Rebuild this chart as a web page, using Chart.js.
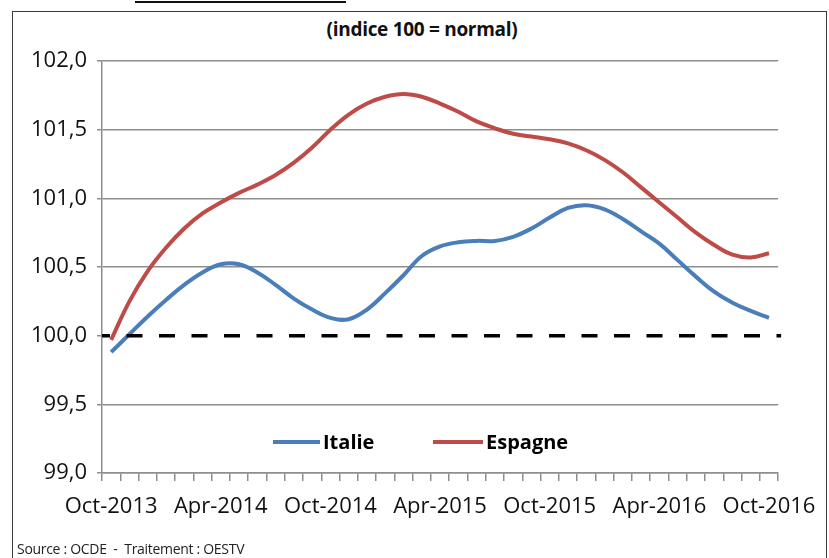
<!DOCTYPE html>
<html lang="fr">
<head>
<meta charset="utf-8">
<title>Indice 100 = normal</title>
<script src="https://cdn.jsdelivr.net/npm/chart.js@4.4.1/dist/chart.umd.min.js"></script>
<style>
    html, body { margin: 0; padding: 0; background: #fff; }
    body { width: 829px; height: 558px; position: relative; overflow: hidden; font-family: "Open Sans", sans-serif; }
    .frame { position: absolute; left: 12px; top: 11px; width: 815px; height: 570px; border: 1.5px solid #3a3a3a; box-sizing: border-box; }
    .topline { position: absolute; left: 135px; top: 1px; width: 211px; height: 2px; background: #111; }
    .subtitle { position: absolute; left: 0; width: 844px; top: 16px; text-align: center; font-weight: 700; font-size: 19px; letter-spacing: -0.3px; color: #111; }
    .source { position: absolute; left: 17px; top: 539px; font-size: 14px; letter-spacing: -0.3px; color: #222; white-space: nowrap; }
    canvas { position: absolute; left: 0; top: 0; }
</style>
</head>
<body>
<div class="frame"></div>
<div class="topline"></div>
<div class="subtitle">(indice 100 = normal)</div>
<canvas id="chart" width="829" height="558"></canvas>
<div class="source">Source : OCDE&nbsp; - &nbsp;Traitement : OESTV</div>

<script>
// Months, Oct-2013 .. Oct-2016
const months = [
    'Oct-2013', 'Nov-2013', 'Dec-2013', 'Jan-2014', 'Feb-2014', 'Mar-2014',
    'Apr-2014', 'May-2014', 'Jun-2014', 'Jul-2014', 'Aug-2014', 'Sep-2014',
    'Oct-2014', 'Nov-2014', 'Dec-2014', 'Jan-2015', 'Feb-2015', 'Mar-2015',
    'Apr-2015', 'May-2015', 'Jun-2015', 'Jul-2015', 'Aug-2015', 'Sep-2015',
    'Oct-2015', 'Nov-2015', 'Dec-2015', 'Jan-2016', 'Feb-2016', 'Mar-2016',
    'Apr-2016', 'May-2016', 'Jun-2016', 'Jul-2016', 'Aug-2016', 'Sep-2016',
    'Oct-2016'
];

// Series values
const italie = [
    99.88, 100.01, 100.14, 100.26, 100.37, 100.46, 100.52, 100.52, 100.46, 100.37,
    100.27, 100.19, 100.13, 100.12, 100.19, 100.31, 100.44, 100.58, 100.65, 100.68,
    100.69, 100.69, 100.72, 100.78, 100.86, 100.93, 100.95, 100.92, 100.85, 100.76,
    100.67, 100.55, 100.43, 100.32, 100.24, 100.18, 100.13
];
const espagne = [
    99.97, 100.25, 100.47, 100.64, 100.78, 100.89, 100.97, 101.04, 101.10, 101.17,
    101.26, 101.37, 101.50, 101.61, 101.69, 101.74, 101.76, 101.74, 101.69, 101.63,
    101.56, 101.51, 101.47, 101.45, 101.43, 101.40, 101.35, 101.28, 101.19, 101.08,
    100.97, 100.86, 100.75, 100.66, 100.59, 100.57, 100.60
];

const yMin = 99;
const yMax = 102;
const yStep = 0.5;
const normalLevel = 100;
const labelEvery = 6;

const gridGray = '#8e8e8e';
const fontFamily = '"Open Sans", sans-serif';

// dashed black line at index 100
const normalLine = {
    id: 'normalLine',
    afterDatasetsDraw(chart) {
        const { ctx, chartArea } = chart;
        const y = chart.scales.y.getPixelForValue(normalLevel);
        ctx.save();
        ctx.beginPath();
        ctx.setLineDash([16, 16.5]);
        ctx.lineDashOffset = 8;
        ctx.strokeStyle = '#000';
        ctx.lineWidth = 3.5;
        ctx.moveTo(chartArea.left, y);
        ctx.lineTo(chartArea.right + 3, y);
        ctx.stroke();
        ctx.restore();
    }
};

// legend drawn inside the plot, near the bottom
const innerLegend = {
    id: 'innerLegend',
    afterDraw(chart, args, opts) {
        const { ctx } = chart;
        ctx.save();
        ctx.font = 'bold 20px ' + fontFamily;
        ctx.textBaseline = 'middle';
        ctx.textAlign = 'left';
        opts.items.forEach((item, i) => {
            const ds = chart.data.datasets[i];
            ctx.beginPath();
            ctx.strokeStyle = ds.borderColor;
            ctx.lineWidth = 4;
            ctx.moveTo(item.x, opts.y);
            ctx.lineTo(item.x + item.w, opts.y);
            ctx.stroke();
            ctx.fillStyle = '#000';
            ctx.fillText(ds.label, item.x + item.w + 3, opts.y + 1);
        });
        ctx.restore();
    }
};

new Chart(document.getElementById('chart'), {
    type: 'line',
    data: {
        labels: months,
        datasets: [
            {
                label: 'Italie',
                data: italie,
                borderColor: '#4a7ebb',
                borderWidth: 4,
                pointRadius: 0,
                tension: 0.4,
                fill: false
            },
            {
                label: 'Espagne',
                data: espagne,
                borderColor: '#be4b48',
                borderWidth: 4,
                pointRadius: 0,
                tension: 0.4,
                fill: false
            }
        ]
    },
    options: {
        responsive: false,
        animation: false,
        layout: {
            padding: { left: 20, top: 61, right: 42, bottom: 40 }
        },
        plugins: {
            legend: { display: false },
            tooltip: { enabled: false },
            innerLegend: {
                y: 442,
                items: [
                    { x: 273, w: 47 },
                    { x: 433, w: 50 }
                ]
            }
        },
        scales: {
            x: {
                offset: true,
                grid: {
                    offset: true,
                    drawOnChartArea: false,
                    color: gridGray,
                    lineWidth: 1.5,
                    tickLength: 8
                },
                border: { color: gridGray, width: 1.5 },
                ticks: {
                    autoSkip: false,
                    maxRotation: 0,
                    padding: 13,
                    color: '#111',
                    font: { family: fontFamily, size: 22 },
                    callback: (value, index) => (index % labelEvery === 0 ? months[index] : '')
                },
                afterFit: (scale) => { scale.height = 45; }
            },
            y: {
                min: yMin,
                max: yMax,
                grid: {
                    color: (c) => (c.tick && c.tick.value === normalLevel ? 'rgba(0,0,0,0)' : gridGray),
                    tickColor: gridGray,
                    lineWidth: 1.5,
                    tickLength: 5
                },
                border: { color: gridGray, width: 1.5 },
                ticks: {
                    stepSize: yStep,
                    padding: 10,
                    color: '#111',
                    font: { family: fontFamily, size: 22 },
                    callback: (value) => value.toFixed(1).replace('.', ',')
                },
                afterFit: (scale) => { scale.width = 82; }
            }
        }
    },
    plugins: [normalLine, innerLegend]
});
</script>
</body>
</html>
